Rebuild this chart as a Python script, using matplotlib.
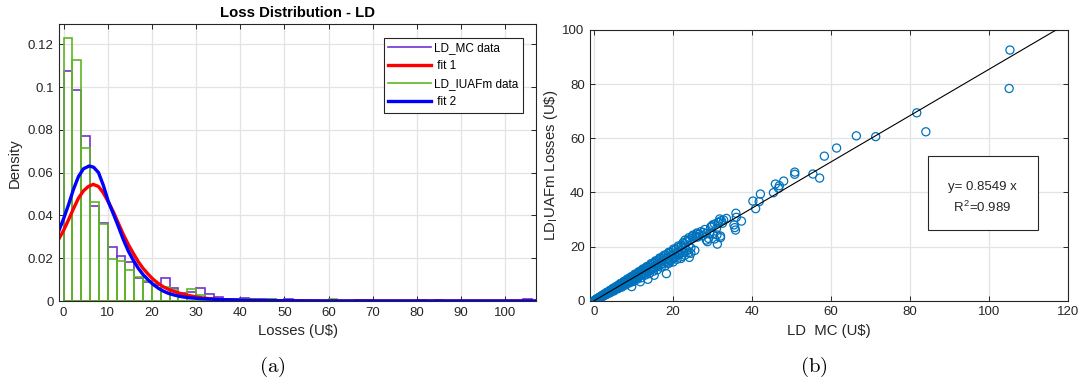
import numpy as np
import matplotlib
matplotlib.use("Agg")
import matplotlib.pyplot as plt
from matplotlib.lines import Line2D
from matplotlib.patches import Rectangle

plt.rcParams['font.family'] = ['Liberation Sans', 'DejaVu Sans']
plt.rcParams['mathtext.fontset'] = 'cm'

# ---------------- data: histogram (a) ----------------
bin_width = 2
bin_starts = list(range(0, 106, 2))
mc_density = [0.1077, 0.0986, 0.0771, 0.0446, 0.0366, 0.0251, 0.0212, 0.0184, 0.0109, 0.0090,
              0.0075, 0.0106, 0.0062, 0.0036, 0.0040, 0.0061, 0.0035, 0.0020, 0.0010, 0.0010,
              0.0015, 0.0010, 0.0010, 0.0008, 0.0002, 0.0008, 0.0002, 0.0002, 0.0001, 0.0001,
              0.0002, 0.0001, 0.0001, 0.0003, 0.0003, 0.0001, 0.0001, 0.0001, 0.0001, 0.0001,
              0.0003, 0.0001, 0.0003, 0.0001, 0.0001, 0.0002, 0.0001, 0.0001, 0.0001, 0.0001,
              0.0001, 0.0001, 0.0011]
iuafm_density = [0.1231, 0.1125, 0.0717, 0.0461, 0.0362, 0.0196, 0.0187, 0.0145, 0.0111, 0.0093,
                 0.0078, 0.0067, 0.0050, 0.0028, 0.0055, 0.0028, 0.0016, 0.0011, 0.0011, 0.0011,
                 0.0008, 0.0011, 0.0006, 0.0011, 0.0002, 0.0002, 0.0001, 0.0002, 0.0001, 0.0001,
                 0.0008, 0.0001, 0.0001, 0.0001, 0.0001, 0.0001, 0.0001, 0.0001, 0.0001, 0.0001,
                 0.0001, 0.0001, 0.0001, 0.0002, 0.0001, 0.0001, 0.0001, 0.0001, 0.0001, 0.0001,
                 0.0001, 0.0001, 0.0001]

fit1_x = [-1, 0, 1.1, 2.2, 3.35, 4.5, 5.6, 6.7, 7.9, 9.0, 10.1, 11.3, 12.4, 13.5, 14.7, 15.8,
          16.9, 18.0, 19.2, 20.3, 21.5, 22.6, 24.0, 25.5, 27.0, 28.5, 30.0, 32.0, 34.0, 37.0,
          40.0, 45.0, 50.0, 60.0, 80.0, 107.0]
fit1_y = [0.0293, 0.0330, 0.0379, 0.0430, 0.0480, 0.0515, 0.0535, 0.0545, 0.0535, 0.0505,
          0.0464, 0.0415, 0.0363, 0.0312, 0.0262, 0.0222, 0.0184, 0.0152, 0.0124, 0.0101,
          0.0081, 0.0066, 0.0052, 0.0041, 0.0032, 0.0025, 0.0019, 0.0013, 0.0009, 0.0005,
          0.0003, 0.0002, 0.0001, 0.0000, 0.0000, 0.0000]
fit2_x = [-1, 0, 1.1, 2.2, 3.35, 4.5, 5.8, 6.8, 7.9, 9.0, 10.1, 11.3, 12.4, 13.5, 14.7, 15.8,
          16.9, 18.0, 19.2, 20.3, 21.5, 22.6, 23.7, 25.0, 26.7, 28.5, 31.0, 35.0, 40.0, 45.0,
          50.0, 60.0, 80.0, 107.0]
fit2_y = [0.0332, 0.0385, 0.0449, 0.0520, 0.0581, 0.0618, 0.0631, 0.0625, 0.0600, 0.0540,
          0.0466, 0.0405, 0.0348, 0.0288, 0.0231, 0.0190, 0.0153, 0.0123, 0.0098, 0.0077,
          0.0059, 0.0046, 0.0036, 0.0028, 0.0020, 0.0015, 0.0011, 0.0007, 0.0004, 0.0002,
          0.0001, 0.0000, 0.0000, 0.0000]

# ---------------- data: scatter (b) ----------------
mc_losses = [
    0.1, 0.3, 0.5, 0.7, 0.9, 1.1, 1.3, 1.5, 1.8, 2.0, 2.3, 2.6, 2.9, 3.2, 3.5, 3.8, 4.1, 4.4,
    4.7, 5.0, 5.3, 5.6, 5.9, 6.2, 6.5, 6.8, 7.1, 7.4, 7.7, 8.0, 8.4, 8.8, 9.2, 9.6, 10.0, 10.4,
    10.8, 11.2, 11.6, 12.0, 12.5, 13.0, 13.5, 14.0, 14.5, 15.0, 15.5, 16.0, 16.5, 17.0, 17.6,
    18.2, 18.8, 19.4, 20.0, 20.7, 21.4, 22.1, 22.8, 23.5, 24.2, 25.0, 25.8, 26.6,
    0.4, 0.8, 1.2, 1.6, 2.0, 2.5, 3.0, 3.5, 4.0, 4.5, 5.0, 5.5, 6.0, 6.5, 7.0, 7.5, 8.0, 8.5,
    9.0, 9.5, 10.0, 10.6, 11.2, 11.8, 12.4, 13.0, 13.6, 14.2, 14.8, 15.4, 16.0, 16.8, 17.5,
    18.2, 19.0, 19.8, 20.5, 21.5, 22.5, 23.5, 24.5,
    0.6, 1.4, 2.2, 3.0, 3.8, 4.6, 5.4, 6.2, 7.0, 7.8, 8.6, 9.4, 10.2, 11.0, 11.8, 12.6, 13.4,
    14.2, 15.0, 15.8, 16.6, 17.4, 18.6, 19.6, 21.0, 22.0, 23.0, 24.0,
    0.2, 1.0, 1.7, 2.4, 3.1, 3.9, 4.8, 5.7, 6.6, 7.5, 8.4, 9.3, 10.3, 11.3, 12.3, 13.3, 14.4,
    15.5, 16.6, 17.7, 18.9, 20.1, 21.3, 22.5, 23.7, 24.9, 26.0,
    2.0, 3.0, 4.0, 5.0, 6.0, 7.0, 8.0, 9.0, 10.0, 11.0, 12.0, 13.0, 14.0, 15.0, 16.0, 17.0,
    18.0, 19.0, 20.0, 21.0, 22.0, 23.0, 24.5, 25.5,
    26.2, 27.5, 29.0, 30.0, 30.5, 32.5, 32.8, 31.5, 30.0, 29.5, 28.0, 26.0, 25.0, 24.0, 23.0,
    9.5, 11.7, 13.6, 15.2, 18.3, 18.7, 22.2, 24.1, 23.9, 21.6, 20.3, 19.5,
    27.0, 27.6, 28.4, 28.4, 28.7, 29.3, 29.8, 30.5, 31.0, 31.2, 31.4, 31.8, 32.0, 32.2, 31.1,
    32.0, 33.5, 35.6, 35.4, 35.8, 35.9, 37.3, 36.0, 40.2, 40.9, 41.8, 42.1, 45.4, 46.7,
    46.9, 45.9, 48.0, 50.8, 50.8, 55.4, 57.1, 58.3, 61.4, 66.4, 71.3, 81.7, 84.0, 105.1, 105.3]
iuafm_losses = [
    0.1, 0.3, 0.5, 0.7, 0.8, 1.0, 1.2, 1.4, 1.7, 1.9, 2.1, 2.4, 2.7, 3.0, 3.2, 3.5, 3.8, 4.1,
    4.3, 4.6, 4.9, 5.1, 5.4, 5.7, 6.0, 6.3, 6.5, 6.8, 7.1, 7.4, 7.7, 8.1, 8.5, 8.8, 9.2, 9.6,
    9.9, 10.3, 10.7, 11.0, 11.5, 12.0, 12.4, 12.9, 13.3, 13.8, 14.3, 14.7, 15.2, 15.7, 16.2,
    16.8, 17.4, 17.9, 18.5, 19.1, 19.7, 20.4, 21.1, 21.7, 22.4, 23.1, 23.8, 24.6,
    0.3, 0.6, 0.9, 1.2, 1.5, 1.9, 2.3, 2.7, 3.1, 3.5, 3.9, 4.3, 4.7, 5.1, 5.5, 5.9, 6.3, 6.7,
    7.0, 7.4, 7.8, 8.3, 8.8, 9.3, 9.8, 10.2, 10.7, 11.2, 11.7, 12.2, 12.6, 13.3, 13.8, 14.4,
    15.0, 15.6, 16.2, 17.0, 17.8, 18.6, 19.5,
    0.5, 1.2, 1.8, 2.5, 3.2, 3.9, 4.5, 5.2, 5.9, 6.6, 7.2, 7.9, 8.6, 9.2, 9.9, 10.6, 11.3,
    11.9, 12.6, 13.3, 14.0, 14.7, 15.7, 16.5, 17.6, 18.5, 19.3, 20.2,
    0.2, 0.95, 1.6, 2.3, 3.0, 3.7, 4.6, 5.4, 6.3, 7.1, 8.0, 8.8, 9.8, 10.7, 11.7, 12.6, 13.7,
    14.7, 15.8, 16.8, 17.9, 19.1, 20.2, 21.4, 22.5, 23.7, 24.7,
    1.4, 2.2, 2.9, 3.6, 4.4, 5.0, 5.8, 6.6, 7.1, 8.0, 8.5, 9.5, 10.0, 10.9, 11.4, 12.4,
    12.9, 13.9, 14.3, 15.3, 15.6, 16.8, 17.5, 18.6,
    23.5, 24.0, 23.0, 24.6, 22.8, 28.6, 29.8, 28.9, 28.0, 27.2, 26.3, 25.0, 24.2, 23.3, 22.4,
    5.2, 7.0, 7.9, 9.4, 10.0, 13.8, 16.3, 16.0, 17.7, 17.5, 15.8, 14.9,
    25.5, 25.2, 24.9, 22.4, 21.8, 24.9, 27.5, 28.3, 26.7, 20.9, 29.0, 30.2, 23.9, 29.6, 24.3,
    23.3, 30.4, 27.0, 28.0, 26.1, 32.3, 29.4, 30.8, 36.8, 34.0, 36.6, 39.4, 39.9, 41.5,
    42.5, 43.1, 44.2, 47.5, 46.7, 46.8, 45.3, 53.4, 56.4, 60.9, 60.6, 69.4, 62.4, 78.4, 92.6]
fit_slope = 0.8549
r_squared = 0.989

# ---------------- figure ----------------
W, H = 1083, 384
fig = plt.figure(figsize=(W / 100, H / 100), dpi=100)

axis_col = '#262626'
grid_col = '#e3e3e3'
purple = '#7133cf'
green = '#5fb625'

def px_axes(l, t, r, b):
    return fig.add_axes([l / W, 1 - b / H, (r - l) / W, (b - t) / H])

def style(ax):
    for s in ax.spines.values():
        s.set_color(axis_col)
        s.set_linewidth(0.8)
    ax.tick_params(direction='in', length=3.5, width=0.7, top=True, right=True,
                   labelsize=9.5, colors=axis_col, pad=4)
    ax.grid(True, color=grid_col, linewidth=0.9)
    ax.set_axisbelow(True)

# ----- (a) -----
ax1 = px_axes(59.2, 24.3, 536.2, 301)
style(ax1)
ax1.bar(bin_starts, mc_density, width=bin_width, align='edge', fill=False,
        edgecolor=purple, linewidth=1.2)
ax1.bar(bin_starts, iuafm_density, width=bin_width, align='edge', fill=False,
        edgecolor=green, linewidth=1.2)
ax1.plot(fit1_x, fit1_y, color='#ff0000', linewidth=2.4, solid_joinstyle='round')
ax1.plot(fit2_x, fit2_y, color='#0000ff', linewidth=2.4, solid_joinstyle='round')
ax1.set_xlim(-1, 107)
ax1.set_ylim(0, 0.1293)
ax1.set_xticks(range(0, 101, 10))
ax1.set_yticks([0, 0.02, 0.04, 0.06, 0.08, 0.1, 0.12])
ax1.set_yticklabels(['0', '0.02', '0.04', '0.06', '0.08', '0.1', '0.12'])
ax1.set_title('Loss Distribution - LD', fontsize=10.7, fontweight='bold', pad=5, color='black')
ax1.set_xlabel('Losses (U$)', fontsize=10.7, color=axis_col, labelpad=4)
ax1.set_ylabel('Density', fontsize=10.7, color=axis_col, labelpad=4)

handles = [Line2D([], [], color=purple, lw=1.2),
           Line2D([], [], color='#ff0000', lw=2.4),
           Line2D([], [], color=green, lw=1.2),
           Line2D([], [], color='#0000ff', lw=2.4)]
leg = ax1.legend(handles, ['LD_MC data', ' fit 1', 'LD_IUAFm data', ' fit 2'],
                 loc='upper right', bbox_to_anchor=(0.973, 0.952), fontsize=8.5,
                 handlelength=3.6, handletextpad=0.3, labelspacing=0.5, borderpad=0.4,
                 borderaxespad=0.0, fancybox=False, framealpha=1, edgecolor=axis_col)
leg.get_frame().set_linewidth(0.8)

# ----- (b) -----
ax2 = px_axes(590.2, 30, 1068, 300.7)
style(ax2)
ax2.scatter(mc_losses, iuafm_losses, s=34, facecolors='none', edgecolors='#0072BD',
            linewidths=0.9, zorder=3)
ax2.plot([0, 120], [0, fit_slope * 120], color='black', linewidth=0.8, zorder=4)
ax2.set_xlim(-1, 120)
ax2.set_ylim(0, 100)
ax2.set_xticks(range(0, 121, 20))
ax2.set_yticks(range(0, 101, 20))
ax2.set_xlabel('LD  MC (U$)', fontsize=10.7, color=axis_col, labelpad=4)
ax2.set_ylabel(r'LD$_{\mathregular{I}}$UAFm Losses (U\$)', fontsize=10.7, color=axis_col,
               labelpad=2)
ax2.add_patch(Rectangle((0.7066, 0.261), 0.2298, 0.2747, transform=ax2.transAxes,
                        fill=True, facecolor='white', edgecolor=axis_col, linewidth=0.8,
                        zorder=5))
ax2.text(0.821, 0.421, 'y= %.4f x' % fit_slope, transform=ax2.transAxes, ha='center',
         va='center', fontsize=9.5, color=axis_col, zorder=6)
ax2.text(0.821, 0.345, r'R$^{\mathregular{2}}$=%.3f' % r_squared, transform=ax2.transAxes,
         ha='center', va='center', fontsize=9.5, color=axis_col, zorder=6)

# captions
fig.text(272 / W, 1 - 367 / H, r'$\mathrm{(a)}$', ha='center', va='center', fontsize=15)
fig.text(813.5 / W, 1 - 367 / H, r'$\mathrm{(b)}$', ha='center', va='center', fontsize=15)

fig.savefig('out.png', dpi=100)
